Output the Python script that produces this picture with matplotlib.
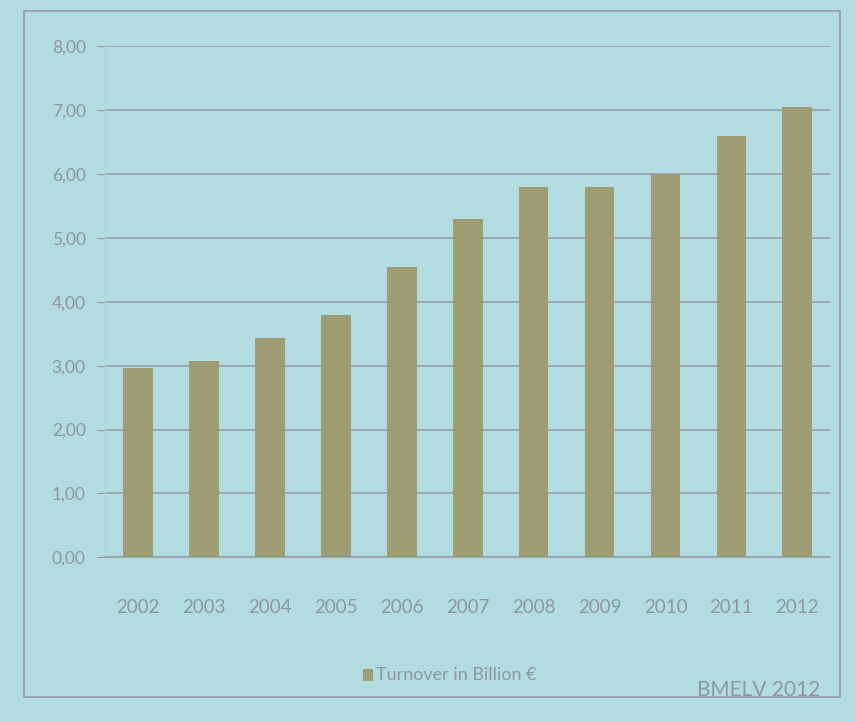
import matplotlib.pyplot as plt
from matplotlib.patches import Rectangle

# turnover of organic food
years = ['2002', '2003', '2004', '2005', '2006', '2007', '2008', '2009', '2010', '2011', '2012']
turnover = [2.97, 3.07, 3.43, 3.80, 4.55, 5.30, 5.80, 5.80, 6.00, 6.60, 7.05]
y_ticks = [0, 1, 2, 3, 4, 5, 6, 7, 8]
y_labels = ['0,00', '1,00', '2,00', '3,00', '4,00', '5,00', '6,00', '7,00', '8,00']

bg = '#b2dcdf'
bar_col = '#9e9c72'
grid_col = '#939ca8'
txt_col = '#8b98a2'

plt.rcParams['font.family'] = ['Lato', 'DejaVu Sans']

fig = plt.figure(figsize=(8.55, 7.22), dpi=100)
fig.patch.set_facecolor(bg)

# outer chart frame
fig.patches.append(Rectangle((0.028, 0.035), 0.955, 0.95, transform=fig.transFigure,
                             fill=False, edgecolor=grid_col, linewidth=1.2))

ax = fig.add_axes([0.123, 0.228, 0.848, 0.708])
ax.set_facecolor(bg)

x = range(len(years))
ax.bar(x, turnover, width=0.45, color=bar_col, zorder=3)

ax.set_xlim(-0.5, len(years) - 0.5)
ax.set_ylim(0, 8)
ax.set_yticks(y_ticks)
ax.set_yticklabels(y_labels)
ax.set_xticks(list(x))
ax.set_xticklabels(years)
ax.yaxis.grid(True, color=grid_col, linewidth=1.1, zorder=0)
ax.tick_params(axis='y', length=6, color=grid_col, labelcolor=txt_col, labelsize=12.5, pad=8)
ax.tick_params(axis='x', length=0, labelcolor=txt_col, labelsize=13.5, pad=30)

for side in ['top', 'right']:
    ax.spines[side].set_visible(False)
ax.spines['left'].set_color('#b9cfd4')
ax.spines['bottom'].set_color(grid_col)
ax.spines['bottom'].set_linewidth(1.1)

# legend
fig.patches.append(Rectangle((0.425, 0.057), 0.011, 0.016, transform=fig.transFigure,
                             facecolor=bar_col, edgecolor='none'))
fig.text(0.44, 0.065, 'Turnover in Billion €', color=txt_col, fontsize=13, va='center')

fig.text(0.96, 0.045, 'BMELV 2012', color=txt_col, fontsize=15, ha='right', va='center')

plt.savefig('out.png', dpi=100, facecolor=bg)
